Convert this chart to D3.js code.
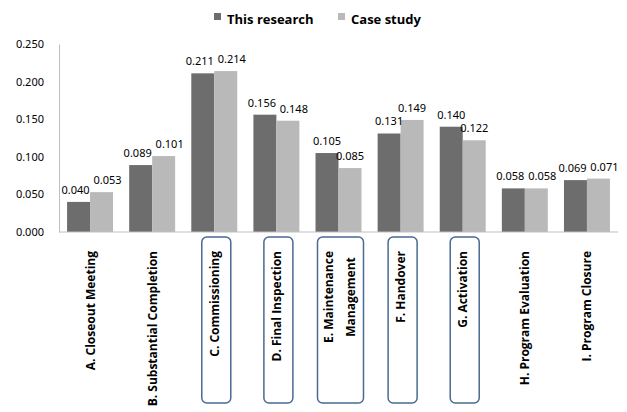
<!DOCTYPE html>
<html>
<head>
<meta charset="utf-8">
<script src="https://cdn.jsdelivr.net/npm/d3@7"></script>
<style>
  body { margin: 0; background: #fff; }
  svg { display: block; font-family: "Open Sans", "Noto Sans", sans-serif; }
</style>
</head>
<body>
<svg id="chart" width="627" height="412"></svg>
<script>
// data
const categories = [
  ["A. Closeout Meeting"],
  ["B. Substantial Completion"],
  ["C. Commissioning"],
  ["D. Final Inspection"],
  ["E. Maintenance", "Management"],
  ["F. Handover"],
  ["G. Activation"],
  ["H. Program Evaluation"],
  ["I. Program Closure"]
];
const seriesNames = ["This research", "Case study"];
const thisResearch = [0.040, 0.089, 0.211, 0.156, 0.105, 0.131, 0.140, 0.058, 0.069];
const caseStudy = [0.053, 0.101, 0.214, 0.148, 0.085, 0.149, 0.122, 0.058, 0.071];
const yTicks = [0, 0.05, 0.1, 0.15, 0.2, 0.25];
const boxed = [2, 3, 4, 5, 6]; // C..G framed

const colors = ["#6d6d6d", "#b9b9b9"];

var svg = d3.select("#chart"),
  margin = { top: 44, right: 9, bottom: 180, left: 59 },
  width = +svg.attr("width") - margin.left - margin.right,
  height = +svg.attr("height") - margin.top - margin.bottom,
  g = svg.append("g").attr("transform", "translate(" + margin.left + "," + margin.top + ")");

var x0 = d3.scaleBand().domain(d3.range(categories.length)).range([0, width]).paddingInner(0.26).paddingOuter(0.13);
var x1 = d3.scaleBand().domain([0, 1]).range([0, x0.bandwidth()]);
var y = d3.scaleLinear().domain([0, 0.25]).range([height, 0]);
var fmt = d3.format(".3f");

// y axis
var yAxis = g.append("g").call(d3.axisLeft(y).tickValues(yTicks).tickFormat(fmt).tickSize(0).tickPadding(15));
yAxis.select(".domain").attr("stroke", "#bfbfbf");
yAxis.selectAll("text").attr("font-size", 11).attr("font-family", "Noto Sans").attr("fill", "#000");

var data = categories.map(function (c, i) {
  return { i: i, vals: [thisResearch[i], caseStudy[i]] };
});

var grp = g.selectAll(".grp").data(data).enter().append("g")
  .attr("transform", function (d) { return "translate(" + x0(d.i) + ",0)"; });

grp.selectAll("rect").data(function (d) { return d.vals; }).enter().append("rect")
  .attr("x", function (d, j) { return x1(j); })
  .attr("y", function (d) { return y(d); })
  .attr("width", x1.bandwidth())
  .attr("height", function (d) { return height - y(d); })
  .attr("fill", function (d, j) { return colors[j]; });

// value labels, pushed apart when the pair sits at about the same height
grp.each(function (d) {
  var close = Math.abs(y(d.vals[0]) - y(d.vals[1])) < 10;
  d3.select(this).selectAll("text").data(d.vals).enter().append("text")
    .attr("x", function (v, j) { return x1(j) + x1.bandwidth() / 2 + (close ? (j ? 6 : -3) : 0); })
    .attr("y", function (v) { return y(v) - 8; })
    .attr("text-anchor", "middle")
    .attr("font-size", 11)
    .attr("font-family", "Noto Sans")
    .text(fmt);
});

// x axis line
g.append("line").attr("x1", 0).attr("x2", width).attr("y1", height).attr("y2", height)
  .attr("stroke", "#bfbfbf");

// category labels, rotated
var labTop = height + 19;
var lab = g.selectAll(".lab").data(categories).enter().append("g")
  .attr("transform", function (d, i) { return "translate(" + (x0(i) + x0.bandwidth() / 2) + "," + labTop + ")rotate(-90)"; });

lab.each(function (lines) {
  var el = d3.select(this);
  var n = lines.length;
  var first = el.append("text").attr("font-size", 12).attr("font-weight", "bold")
    .attr("text-anchor", "end").attr("dy", n > 1 ? -6 : 4.5).text(lines[0]);
  if (n > 1) {
    var len = first.node().getComputedTextLength();
    el.append("text").attr("font-size", 12).attr("font-weight", "bold")
      .attr("text-anchor", "middle").attr("x", -len / 2).attr("dy", 16).text(lines[1]);
  }
});

// rounded frames
g.selectAll(".box").data(boxed).enter().append("rect")
  .attr("x", function (i) { var w = categories[i].length > 1 ? 46 : 29; return x0(i) + x0.bandwidth() / 2 - w / 2 + 2; })
  .attr("y", height + 5)
  .attr("width", function (i) { return categories[i].length > 1 ? 46 : 29; })
  .attr("height", 166)
  .attr("rx", 5)
  .attr("fill", "none")
  .attr("stroke", "#4a6a94")
  .attr("stroke-width", 1.5);

// legend
var leg = svg.append("g").selectAll("g").data(seriesNames).enter().append("g")
  .attr("transform", function (d, i) { return "translate(" + (214 + i * 124) + ",0)"; });
leg.append("rect").attr("y", 13).attr("width", 7).attr("height", 7).attr("fill", function (d, i) { return colors[i]; });
leg.append("text").attr("x", 13).attr("y", 24).attr("font-size", 13).attr("font-weight", "bold").text(function (d) { return d; });
</script>
</body>
</html>
